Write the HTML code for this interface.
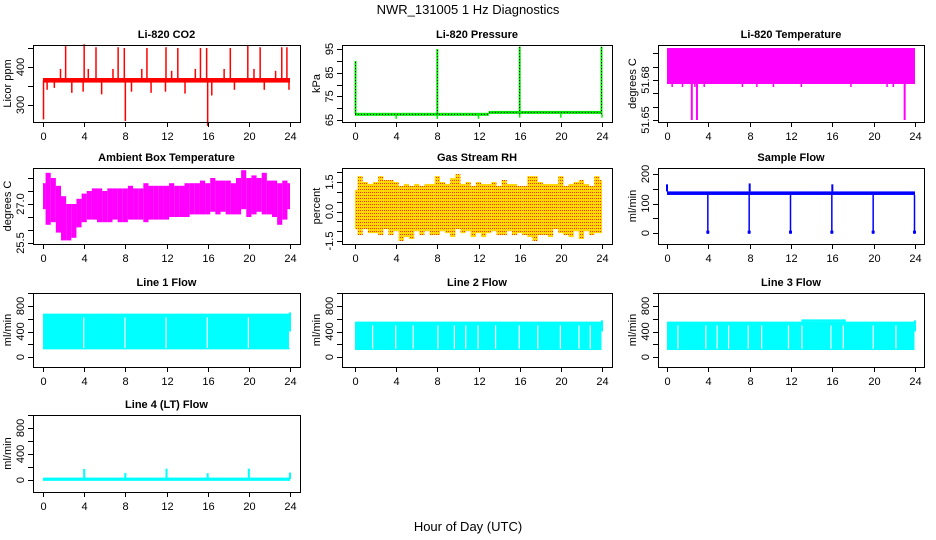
<!DOCTYPE html>
<html><head><meta charset="utf-8"><style>
html,body{margin:0;padding:0;background:#fff}
svg{display:block;font-family:"Liberation Sans",Arial,sans-serif}
</style></head><body>
<svg id="chart" width="936" height="540" viewBox="0 0 936 540" xmlns="http://www.w3.org/2000/svg">
<defs>
<pattern id="rhpat" width="2" height="3" patternUnits="userSpaceOnUse">
<rect width="2" height="3" fill="#ffd800"/><rect width="1" height="1" fill="#ff3000"/>
</pattern>
</defs>
<text x="468" y="14" text-anchor="middle" font-size="13">NWR_131005  1 Hz Diagnostics</text>
<text x="468" y="531" text-anchor="middle" font-size="13">Hour of Day (UTC)</text>
</svg>
<script>
// ---- data ----
const hourTicks=[0,4,8,12,16,20,24];
const halfHours=[0,0.5,1,1.5,2,2.5,3,3.5,4,4.5,5,5.5,6,6.5,7,7.5,8,8.5,9,9.5,10,10.5,11,11.5,12,12.5,13,13.5,14,14.5,15,15.5,16,16.5,17,17.5,18,18.5,19,19.5,20,20.5,21,21.5,22,22.5,23,23.5,24];
// CO2
const co2Base=365;
const co2UpHours=[2.2,4.0,5.15,7.3,7.9,10.1,11.95,13.1,15.3,15.9,18.2,19.9,21.1,23.2,23.7,1.7,4.4,6.8,9.6,12.5,14.8,17.6,20.5,22.6];
const co2UpVals=[455,460,452,452,450,450,452,450,450,450,450,458,452,452,452,395,395,395,395,390,395,395,395,390];
const co2DnHours=[0.05,8.0,16.0,0.4,1.1,2.8,3.9,5.7,8.6,10.5,11.9,13.8,16.4,18.6,21.5,23.9];
const co2DnVals=[262,258,245,340,345,332,335,328,335,332,335,330,325,340,340,340];
// Pressure
const presSegHours=[0,13,24];
const presSegVals=[67.4,68.2];
const presSpikeHours=[0.05,8.0,16.0,23.95];
const presSpikeVals=[90,95,96,96];
const presDipHours=[4,8,12,16,20,24];
const presDipVals=[65.5,65.5,65.5,66,66,66];
// Li-820 temperature
const tempLo=51.677, tempHi=51.704;
const tempDipHours=[2.4,2.9,23.0];
const tempDipVals=[51.65,51.65,51.65];
const tempSmallHours=[0.5,1.5,2.7,3.6,7.3,8.7,10.3,13.0,17.8,21.3,21.9];
// Ambient box temperature
const ambHi=[27.8,28.2,28.0,27.7,27.3,27.0,27.0,27.2,27.4,27.5,27.6,27.6,27.5,27.6,27.6,27.6,27.6,27.7,27.6,27.6,27.8,27.7,27.7,27.7,27.7,27.8,27.7,27.7,27.8,27.8,27.8,27.9,27.8,28.0,27.9,27.9,27.9,27.8,28.0,28.3,28.0,28.1,28.0,28.2,27.9,27.9,27.8,27.9,27.8];
const ambLo=[26.8,26.2,26.3,25.9,25.6,25.6,25.7,26.1,26.3,26.4,26.4,26.3,26.3,26.3,26.4,26.3,26.3,26.4,26.4,26.4,26.3,26.4,26.4,26.4,26.4,26.5,26.5,26.5,26.5,26.6,26.6,26.6,26.6,26.7,26.6,26.7,26.6,26.6,26.6,26.8,26.5,26.6,26.7,26.6,26.6,26.5,26.2,26.4,26.8];
// Gas stream RH
const rhHi=[1.1,1.8,1.5,1.4,1.5,1.8,1.6,1.6,1.5,1.3,1.4,1.3,1.4,1.3,1.4,1.4,1.8,1.5,1.4,1.7,1.9,1.4,1.5,1.3,1.5,1.4,1.4,1.5,1.3,1.6,1.4,1.4,1.3,1.3,1.8,1.8,1.5,1.4,1.4,1.4,1.8,1.3,1.4,1.5,1.6,1.4,1.3,1.8,1.6];
const rhLo=[-0.9,-1.2,-0.9,-1.1,-1.1,-1.2,-0.9,-1.2,-1.0,-1.5,-1.3,-1.4,-1.0,-1.2,-1.0,-1.2,-1.2,-1.0,-1.1,-1.3,-0.9,-1.1,-1.0,-1.3,-1.1,-1.3,-1.1,-1.0,-1.2,-1.2,-1.0,-1.2,-1.1,-1.2,-1.3,-1.5,-1.2,-1.2,-1.3,-0.9,-1.1,-1.2,-1.3,-1.0,-1.4,-1.0,-1.2,-1.1,-1.1];
// Sample flow
const sfBaseLo=129, sfBaseHi=141;
const sfDropHours=[4,8,12,16,20,24];
const sfSpikeHours=[0,8,16];
const sfSpikeVals=[165,168,165];
// Line flows
const l1Lo=120, l1Hi=680;
const l1Gaps=[3.9,7.9,11.9,15.9,19.9,23.9];
const l2Lo=110, l2Hi=555;
const l2Gaps=[1.65,3.9,5.6,8.0,9.6,10.7,11.9,13.6,15.9,17.7,19.9,21.7,22.8];
const l3Lo=110, l3Hi=555, l3HiMid=590;
const l3Gaps=[1.0,3.7,4.8,5.9,7.8,9.1,11.7,13.0,15.8,17.0,19.9,22.1];
const l4Base=12;
const l4SpikeHours=[4,8,12,16,20,24];
const l4SpikeVals=[170,110,175,105,175,115];

// ---- layout ----
const svg=document.getElementById('chart');
const NS='http://www.w3.org/2000/svg';
const rowTop=[45,168,293,415], rowBot=[122,244,367,492];
const colL=[33,342,658], colR=[300,612,924], colX0=[43,355,667], colX24=[290,602,915];
function mk(tag,attrs,parent){const e=document.createElementNS(NS,tag);for(const k in attrs)e.setAttribute(k,attrs[k]);(parent||svg).appendChild(e);return e;}

function panel(c,r,name,title,ylab,v1,y1,v2,y2,ticks,labels,labelDigits){
  const g=mk('g',{});
  
  
  const L=colL[c],R=colR[c],T=rowTop[r],B=rowBot[r];
  const xs=h=>colX0[c]+(colX24[c]-colX0[c])*h/24;
  const ys=v=>y1+(v-v1)*(y2-y1)/(v2-v1);
  const plot=mk('g',{},g);
  
  
  const box=mk('rect',{x:L+0.5,y:T+0.5,width:R-L,height:B-T,fill:'none',stroke:'#000','stroke-width':1},g);
  
  
  const t=mk('text',{x:(L+R)/2,y:T-7,'text-anchor':'middle','font-size':11,'font-weight':'bold'},g);
  t.textContent=title;
  
  
  const yl=mk('text',{x:0,y:0,'text-anchor':'middle','font-size':11,transform:`translate(${L-22},${(T+B)/2}) rotate(-90)`},g);
  yl.textContent=ylab;
  
  
  hourTicks.forEach(h=>{
    const x=Math.round(xs(h))+0.5;
    mk('line',{x1:x,x2:x,y1:B,y2:B+5,stroke:'#000'},g);
    const tx=mk('text',{x:x,y:B+18,'text-anchor':'middle','font-size':11},g);
    tx.textContent=h;
    
    
  });
  ticks.forEach(v=>{
    const y=Math.round(ys(v))+0.5;
    mk('line',{x1:L-5,x2:L,y1:y,y2:y,stroke:'#000'},g);
  });
  labels.forEach(v=>{
    const y=ys(v);
    const ty=mk('text',{x:0,y:0,'text-anchor':'middle','font-size':11,transform:`translate(${L-9},${y}) rotate(-90)`},g);
    ty.textContent=v.toFixed(labelDigits);
    
    
  });
  return {xs,ys,plot};
}
function vl(p,x,yA,yB,col,w){mk('line',{x1:x,x2:x,y1:yA,y2:yB,stroke:col,'stroke-width':w||1.5},p);}
function rc(p,x1,y1,x2,y2,fill){mk('rect',{x:Math.min(x1,x2),y:Math.min(y1,y2),width:Math.abs(x2-x1),height:Math.abs(y2-y1),fill:fill},p);}

// CO2
(function(){
  const P=panel(0,0,'co2','Li-820 CO2','Licor ppm',300,105,400,67,[300,350,400,450],[300,400],0);
  const p=P.plot;
  rc(p,P.xs(0),P.ys(co2Base+6),P.xs(24),P.ys(co2Base-6),'#ff0000');
  co2UpHours.forEach((h,i)=>vl(p,P.xs(h),P.ys(co2Base),P.ys(co2UpVals[i]),'#ff0000',1.5));
  co2DnHours.forEach((h,i)=>vl(p,P.xs(h),P.ys(co2Base),P.ys(co2DnVals[i]),'#ff0000',1.5));
})();
// Pressure
(function(){
  const P=panel(1,0,'pressure','Li-820 Pressure','kPa',65,120,95,49,[65,70,75,80,85,90,95],[65,75,85,95],0);
  const p=P.plot;
  presSegVals.forEach((v,i)=>{
    rc(p,P.xs(presSegHours[i]),P.ys(v)-1.5,P.xs(presSegHours[i+1]),P.ys(v)+1.5,'#00ee00');
    mk('line',{x1:P.xs(presSegHours[i]),x2:P.xs(presSegHours[i+1]),y1:P.ys(v),y2:P.ys(v),stroke:'#000','stroke-dasharray':'1 2'},p);
  });
  presDipHours.forEach((h,i)=>vl(p,P.xs(h),P.ys(67.5),P.ys(presDipVals[i]),'#00ee00',1.5));
  presSpikeHours.forEach((h,i)=>{
    vl(p,P.xs(h),P.ys(67.5),P.ys(presSpikeVals[i]),'#00ee00',2);
    mk('line',{x1:P.xs(h),x2:P.xs(h),y1:P.ys(67.5),y2:P.ys(presSpikeVals[i]),stroke:'#000','stroke-dasharray':'1 2'},p);
  });
})();
// Li-820 temperature
(function(){
  const P=panel(2,0,'li820-temperature','Li-820 Temperature','degrees C',51.65,120,51.68,80,[51.65,51.66,51.67,51.68,51.69,51.70],[51.65,51.68],2);
  const p=P.plot;
  rc(p,P.xs(0),P.ys(tempHi),P.xs(24),P.ys(tempLo),'#ff00ff');
  tempSmallHours.forEach(h=>vl(p,P.xs(h),P.ys(tempLo),P.ys(tempLo)+3,'#ff00ff',1.5));
  tempDipHours.forEach((h,i)=>vl(p,P.xs(h),P.ys(tempLo),P.ys(tempDipVals[i]),'#ff00ff',2));
})();
// Ambient
(function(){
  const P=panel(0,1,'ambient-temperature','Ambient Box Temperature','degrees C',25.5,243,27.0,204,[25.5,26,26.5,27,27.5,28],[25.5,27.0],1);
  const p=P.plot;
  halfHours.forEach((h,i)=>{
    const a=i===0?0:h-0.25, b=i===halfHours.length-1?24:h+0.25;
    rc(p,P.xs(a),P.ys(ambHi[i]),P.xs(b),P.ys(ambLo[i]),'#ff00ff');
  });
})();
// RH
(function(){
  const P=panel(1,1,'gas-stream-rh','Gas Stream RH','percent',-1.5,241,1.5,182,[-1.5,-1,-0.5,0,0.5,1,1.5,2],[-1.5,0.0,1.5],1);
  const p=P.plot;
  halfHours.forEach((h,i)=>{
    const a=i===0?0:h-0.25, b=i===halfHours.length-1?24:h+0.25;
    rc(p,P.xs(a),P.ys(rhHi[i]),P.xs(b),P.ys(rhLo[i]),'url(#rhpat)');
  });
})();
// Sample flow
(function(){
  const P=panel(2,1,'sample-flow','Sample Flow','ml/min',0,233,200,174,[0,50,100,150,200],[0,100,200],0);
  const p=P.plot;
  rc(p,P.xs(0),P.ys(sfBaseHi),P.xs(24),P.ys(sfBaseLo),'#0000ff');
  sfDropHours.forEach(h=>{
    vl(p,P.xs(h)-0.5,P.ys(sfBaseLo),P.ys(-3),'#0000ff',1.5);
    rc(p,P.xs(h)-2,P.ys(8),P.xs(h)+1,P.ys(-2),'#0000ff');
  });
  sfSpikeHours.forEach((h,i)=>vl(p,P.xs(h),P.ys(sfBaseHi),P.ys(sfSpikeVals[i]),'#0000ff',2));
})();
// Line flows
function lineFlow(c,r,name,title,lo,hi,gaps,hiMidRange,hiMid){
  const P=panel(c,r,name,title,'ml/min',0,r===3?480:357,800,r===3?428:306,[0,200,400,600,800,1000],[0,400,800],0);
  const p=P.plot;
  rc(p,P.xs(0),P.ys(hi),P.xs(23.95),P.ys(lo),'#00ffff');
  if(hiMidRange) rc(p,P.xs(hiMidRange[0]),P.ys(hiMid),P.xs(hiMidRange[1]),P.ys(hi),'#00ffff');
  gaps.forEach(h=>rc(p,P.xs(h),P.ys(hi-60),P.xs(h)+1.2,P.ys(lo+20),'#ffffff'));
  rc(p,P.xs(24)-1,P.ys(hi+20),P.xs(24)+1,P.ys(400),'#00ffff');
}
lineFlow(0,2,'line-1-flow','Line 1 Flow',l1Lo,l1Hi,l1Gaps);
lineFlow(1,2,'line-2-flow','Line 2 Flow',l2Lo,l2Hi,l2Gaps);
lineFlow(2,2,'line-3-flow','Line 3 Flow',l3Lo,l3Hi,l3Gaps,[13,17.3],l3HiMid);
(function(){
  const P=panel(0,3,'line-4-flow','Line 4 (LT) Flow','ml/min',0,480,800,428,[0,200,400,600,800,1000],[0,400,800],0);
  const p=P.plot;
  rc(p,P.xs(0),P.ys(l4Base+25),P.xs(24),P.ys(l4Base-25),'#00ffff');
  l4SpikeHours.forEach((h,i)=>vl(p,P.xs(h),P.ys(l4Base),P.ys(l4SpikeVals[i]),'#00ffff',2));
})();
</script>
</body></html>
